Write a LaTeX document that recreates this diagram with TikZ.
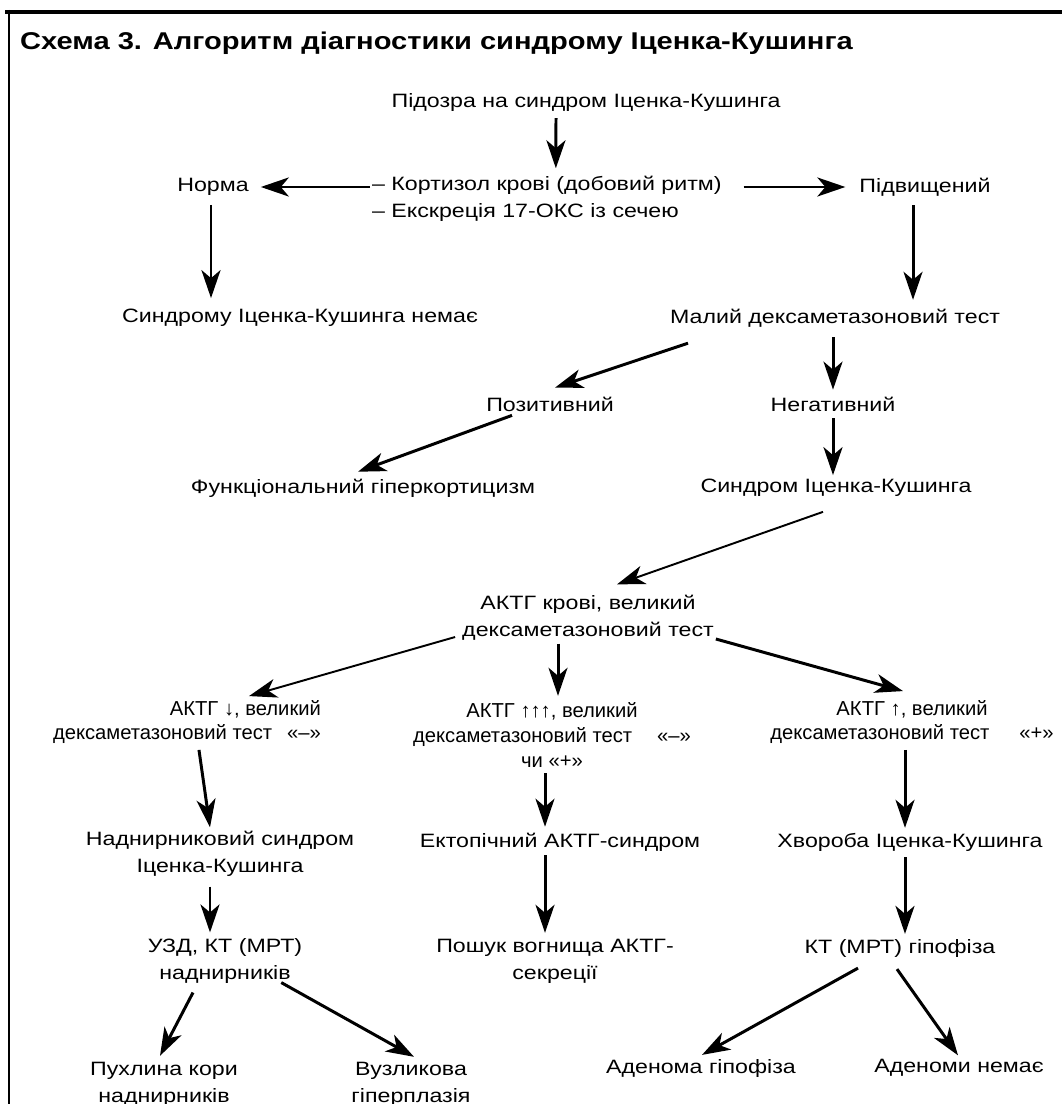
\documentclass[tikz,border=0pt]{standalone}
\usepackage{fontspec}
\setmainfont{Liberation Sans}[FakeStretch=1.2]
\newfontfamily\narrowfont{Liberation Sans}
\usetikzlibrary{arrows.meta}

\begin{document}
\begin{tikzpicture}[x=0.02cm, y=-0.02cm,
	every node/.style={inner sep=1pt, font=\fontsize{11}{15.3}\selectfont},
	narrow/.style={font=\narrowfont\fontsize{11.5}{14}\selectfont},
	link/.style={line width=1.7pt, -{Stealth[length=0.56cm, width=0.38cm, inset=0.16cm]}},
	thinlink/.style={link, line width=1.1pt}]
	\useasboundingbox (0,0) rectangle (1062,1104);
	\fill[white] (0,0) rectangle (1062,1104);
	\draw[line width=0.08cm] (5,12) -- (1062,12);
	\draw[line width=0.06cm] (9,10) -- (9,1104);

	\node[anchor=west, font=\fontsize{13.8}{16}\selectfont\bfseries] at (18,43) (title) {Схема 3. Алгоритм діагностики синдрому Іценка-Кушинга};

	\node at (586,103) (suspect) {Підозра на синдром Іценка-Кушинга};
	\node[anchor=west, align=left] at (370,199) (cortisol) {– Кортизол крові (добовий ритм)\\– Екскреція 17-ОКС із сечею};
	\node at (213,187) (norm) {Норма};
	\node at (925,187) (raised) {Підвищений};

	\node at (300,318) (nosyndrome) {Синдрому Іценка-Кушинга немає};
	\node at (835,318) (smalltest) {Малий дексаметазоновий тест};
	\node at (550,404) (positive) {Позитивний};
	\node at (833,404) (negative) {Негативний};
	\node at (363,488) (functional) {Функціональний гіперкортицизм};
	\node at (836,488) (syndrome) {Синдром Іценка-Кушинга};

	\node[align=center] at (588,618) (bigtest) {АКТГ крові, великий\\дексаметазоновий тест};
	\node[narrow, anchor=east, align=right] at (323,722) (actlow) {АКТГ ↓, великий\\дексаметазоновий тест\hspace{0.3cm}«–»};
	\node[narrow, align=center] at (552,735) (acthigh3) {АКТГ ↑↑↑, великий\\дексаметазоновий тест\hspace{0.5cm}«–»\\чи «+»};
	\node[narrow, align=center] at (912,722) (acthigh) {АКТГ ↑, великий\\дексаметазоновий тест\hspace{0.6cm}«+»};

	\node[align=center] at (220,854) (adrenal) {Наднирниковий синдром\\Іценка-Кушинга};
	\node at (560,842) (ectopic) {Ектопічний АКТГ-синдром};
	\node at (910,842) (cushing) {Хвороба Іценка-Кушинга};

	\node[align=center] at (225,961) (adrenalct) {УЗД, КТ (МРТ)\\наднирників};
	\node[align=center] at (555,961) (search) {Пошук вогнища АКТГ-\\секреції};
	\node at (900,948) (pituitaryct) {КТ (МРТ) гіпофіза};

	\node[align=center] at (164,1084) (tumour) {Пухлина кори\\наднирників};
	\node[align=center] at (411,1084) (nodular) {Вузликова\\гіперплазія};
	\node at (701,1068) (adenoma) {Аденома гіпофіза};
	\node at (959,1068) (noadenoma) {Аденоми немає};

	\draw[link] ([shift={(-30,4)}]suspect.south) to ([shift={(9,-6)}]cortisol.north);
	\draw[link] ([shift={(0,-12)}]cortisol.west) to ([shift={(10,0)}]norm.east);
	\draw[link] ([shift={(20,-12)}]cortisol.east) to ([shift={(-12,0)}]raised.west);
	\draw[link] ([shift={(-2,7)}]norm.south) to ([shift={(-89,-9)}]nosyndrome.north);
	\draw[link] ([shift={(-12,7)}]raised.south) to ([shift={(78,-7)}]smalltest.north);

	\draw[link] ([shift={(-147,14)}]smalltest.south) to ([shift={(5,-7)}]positive.north);
	\draw[link] ([shift={(-2,8)}]smalltest.south) to ([shift={(0,-5)}]negative.north);
	\draw[link] ([shift={(-38,2)}]positive.south) to ([shift={(-5,-5)}]functional.north);
	\draw[link] ([shift={(0,5)}]negative.south) to ([shift={(-3,-2)}]syndrome.north);

	\draw[thinlink] ([shift={(-13,13)}]syndrome.south) to ([shift={(29,-9)}]bigtest.north);
	\draw[thinlink] ([shift={(-5,19)}]bigtest.west) to ([shift={(62,-2)}]actlow.north);
	\draw[link] ([shift={(-30,1)}]bigtest.south) to ([shift={(6,-5)}]acthigh3.north);
	\draw[link] ([shift={(0,21)}]bigtest.east) to ([shift={(-9,-7)}]acthigh.north);

	\draw[link] ([shift={(12,4)}]actlow.south) to ([shift={(-10,-2)}]adrenal.north);
	\draw[link] ([shift={(-7,4)}]acthigh3.south) to ([shift={(-15,-4)}]ectopic.north);
	\draw[link] ([shift={(-7,4)}]acthigh.south) to ([shift={(-5,-3)}]cushing.north);

	\draw[link] ([shift={(-10,8)}]adrenal.south) to ([shift={(-15,-4)}]adrenalct.north);
	\draw[link] ([shift={(-15,2)}]ectopic.south) to ([shift={(-10,-4)}]search.north);
	\draw[link] ([shift={(-5,4)}]cushing.south) to ([shift={(5,-3)}]pituitaryct.north);

	\draw[link] ([shift={(-32,7)}]adrenalct.south) to ([shift={(-4,-4)}]tumour.north);
	\draw[link] ([shift={(-23,-3)}]adrenalct.south east) to ([shift={(3,-3)}]nodular.north);
	\draw[link] ([shift={(-42,9)}]pituitaryct.south) to ([shift={(1,-2)}]adenoma.north);
	\draw[link] ([shift={(-3,10)}]pituitaryct.south) to ([shift={(-1,-2)}]noadenoma.north);
\end{tikzpicture}
\end{document}
